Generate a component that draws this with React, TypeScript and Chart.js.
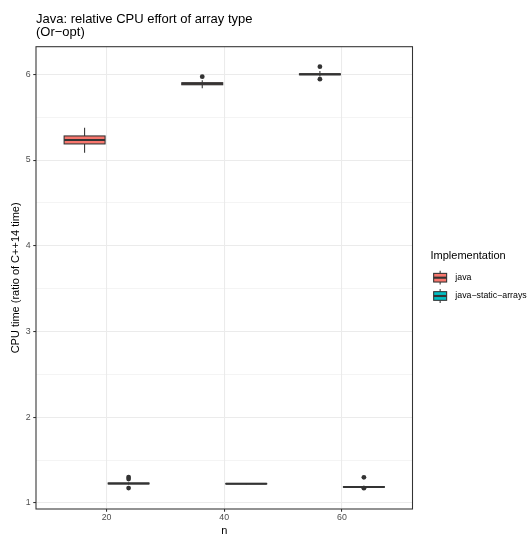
import { useEffect, useRef } from "react";
import { Chart, registerables } from "chart.js";

Chart.register(...registerables);

// ---------- data ----------
const TITLE_LINES = ["Java: relative CPU effort of array type", "(Or\u2212opt)"];
const X_TITLE = "n";
const Y_TITLE = "CPU time (ratio of C++14 time)";
const LEGEND_TITLE = "Implementation";
const SERIES = ["java", "java\u2212static\u2212arrays"];
const COLORS = ["#F8766D", "#00BFC4"];
const N_VALUES = [20, 40, 60];
const X_TICKS = [20, 40, 60];
const Y_TICKS = [1, 1.5, 2, 2.5, 3, 3.5, 4, 4.5, 5, 5.5, 6];
const X_RANGE = [8, 72];
const Y_RANGE = [0.93, 6.322];

// per n: [whiskerLow, q1, median, q3, whiskerHigh]
const JAVA_STATS = [
  [5.086, 5.188, 5.234, 5.281, 5.378],
  [5.837, 5.878, 5.89, 5.902, 5.93],
  [5.975, 5.994, 6.0, 6.006, 6.04],
];
const JAVA_OUTLIERS = [[], [5.972], [6.089, 5.943]];
const STATIC_STATS = [
  [1.215, 1.223, 1.228, 1.233, 1.24],
  [1.218, 1.222, 1.225, 1.228, 1.232],
  [1.18, 1.183, 1.187, 1.191, 1.2],
];
const STATIC_OUTLIERS = [[1.302, 1.28, 1.174], [], [1.3, 1.173]];

// ---------- styling ----------
const DODGE = 3.74;
const BOX_HALF = 3.48;
const FONT = "'Liberation Sans', Arial, Helvetica, sans-serif";
const LINE = "#333333";

const STATS = [JAVA_STATS, STATIC_STATS];
const OUTLIERS = [JAVA_OUTLIERS, STATIC_OUTLIERS];

function boxX(seriesIndex: number, nIndex: number) {
  return N_VALUES[nIndex] + (seriesIndex === 0 ? -DODGE : DODGE);
}

const boxPlugin = {
  id: "boxes",
  beforeDatasetsDraw(chart: any) {
    const { ctx, chartArea, scales } = chart;
    const x = scales.x;
    const y = scales.y;
    ctx.save();
    ctx.beginPath();
    ctx.rect(chartArea.left, chartArea.top, chartArea.right - chartArea.left, chartArea.bottom - chartArea.top);
    ctx.clip();
    STATS.forEach((stats, si) => {
      stats.forEach((s, i) => {
        const cx = boxX(si, i);
        const px = x.getPixelForValue(cx);
        const left = x.getPixelForValue(cx - BOX_HALF);
        const right = x.getPixelForValue(cx + BOX_HALF);
        const [lo, q1, med, q3, hi] = s.map((v) => y.getPixelForValue(v));
        ctx.strokeStyle = LINE;
        ctx.lineWidth = 1.07;
        ctx.beginPath();
        ctx.moveTo(px, lo);
        ctx.lineTo(px, q1);
        ctx.moveTo(px, q3);
        ctx.lineTo(px, hi);
        ctx.stroke();
        ctx.fillStyle = COLORS[si];
        ctx.fillRect(left, q3, right - left, q1 - q3);
        ctx.strokeRect(left, q3, right - left, q1 - q3);
        ctx.lineWidth = 2.13;
        ctx.beginPath();
        ctx.moveTo(left, med);
        ctx.lineTo(right, med);
        ctx.stroke();
      });
    });
    ctx.restore();
  },
};

const decorPlugin = {
  id: "decor",
  afterDraw(chart: any) {
    const { ctx, chartArea } = chart;
    const { left, right, top, bottom } = chartArea;
    ctx.save();
    // panel border
    ctx.strokeStyle = LINE;
    ctx.lineWidth = 1.07;
    ctx.strokeRect(left, top, right - left, bottom - top);

    // title
    ctx.fillStyle = "#000000";
    ctx.font = `13px ${FONT}`;
    ctx.textAlign = "left";
    ctx.textBaseline = "alphabetic";
    ctx.fillText(TITLE_LINES[0], left, 22.8);
    ctx.fillText(TITLE_LINES[1], left, 36.2);

    // axis titles
    ctx.font = `11px ${FONT}`;
    ctx.textAlign = "center";
    ctx.textBaseline = "middle";
    ctx.fillText(X_TITLE, (left + right) / 2, 530.5);
    ctx.save();
    ctx.translate(16, (top + bottom) / 2);
    ctx.rotate(-Math.PI / 2);
    ctx.fillText(Y_TITLE, 0, 0);
    ctx.restore();

    // legend
    const lx = right + 18;
    ctx.textAlign = "left";
    ctx.font = `11px ${FONT}`;
    ctx.fillText(LEGEND_TITLE, lx, 255.7);
    const keyCenters = [277.7, 296];
    SERIES.forEach((name, i) => {
      const cy = keyCenters[i];
      const kx = lx + 1;
      const ks = 17.3;
      const cx = kx + ks / 2;
      ctx.strokeStyle = LINE;
      ctx.lineWidth = 1.07;
      ctx.beginPath();
      ctx.moveTo(cx, cy - ks * 0.4);
      ctx.lineTo(cx, cy - ks * 0.25);
      ctx.moveTo(cx, cy + ks * 0.25);
      ctx.lineTo(cx, cy + ks * 0.4);
      ctx.stroke();
      ctx.fillStyle = COLORS[i];
      const bx = kx + ks * 0.125;
      const bw = ks * 0.75;
      ctx.fillRect(bx, cy - ks * 0.25, bw, ks * 0.5);
      ctx.strokeRect(bx, cy - ks * 0.25, bw, ks * 0.5);
      ctx.lineWidth = 2.13;
      ctx.beginPath();
      ctx.moveTo(bx, cy);
      ctx.lineTo(bx + bw, cy);
      ctx.stroke();
      ctx.fillStyle = "#000000";
      ctx.font = `8.8px ${FONT}`;
      ctx.textBaseline = "middle";
      ctx.fillText(name, kx + ks + 6.5, cy);
    });
    ctx.restore();
  },
};

export default function App() {
  const canvasRef = useRef<HTMLCanvasElement | null>(null);

  useEffect(() => {
    const canvas = canvasRef.current;
    if (!canvas) return;
    const datasets = OUTLIERS.map((series, si) => ({
      label: SERIES[si],
      data: series.flatMap((vals, i) => vals.map((v) => ({ x: boxX(si, i), y: v }))),
      pointRadius: 2.4,
      pointHoverRadius: 2.4,
      pointBackgroundColor: LINE,
      pointBorderWidth: 0,
      showLine: false,
    }));
    const isMajor = (v: number) => Math.abs(v - Math.round(v)) < 1e-9;
    const chart = new Chart(canvas, {
      type: "scatter",
      data: { datasets },
      plugins: [boxPlugin, decorPlugin],
      options: {
        animation: false,
        responsive: false,
        devicePixelRatio: window.devicePixelRatio || 1,
        layout: { padding: { top: 46.7, right: 119.5, bottom: 0, left: 0 } },
        plugins: {
          legend: { display: false },
          tooltip: { enabled: false },
          title: { display: false },
        },
        scales: {
          x: {
            type: "linear",
            min: X_RANGE[0],
            max: X_RANGE[1],
            afterBuildTicks: (scale: any) => {
              scale.ticks = X_TICKS.map((v) => ({ value: v }));
            },
            afterFit: (scale: any) => {
              scale.height = 27;
            },
            ticks: {
              padding: 0.5,
              color: "#4D4D4D",
              font: { family: FONT, size: 8.8 },
              maxRotation: 0,
              autoSkip: false,
              callback: (v: any) => String(v),
            },
            grid: {
              color: "#EBEBEB",
              lineWidth: 1.07,
              tickLength: 2.75,
              tickColor: LINE,
              tickWidth: 1.07,
            },
            border: { display: false },
          },
          y: {
            type: "linear",
            min: Y_RANGE[0],
            max: Y_RANGE[1],
            afterBuildTicks: (scale: any) => {
              scale.ticks = Y_TICKS.map((v) => ({ value: v }));
            },
            afterFit: (scale: any) => {
              scale.width = 36;
            },
            ticks: {
              padding: 2.5,
              color: "#4D4D4D",
              font: { family: FONT, size: 8.8 },
              autoSkip: false,
              callback: (v: any) => (isMajor(Number(v)) ? String(v) : ""),
            },
            grid: {
              color: "#EBEBEB",
              lineWidth: (c: any) => (c.tick && isMajor(c.tick.value) ? 1.07 : 0.53),
              tickLength: 2.75,
              tickColor: (c: any) => (c.tick && isMajor(c.tick.value) ? LINE : "rgba(0,0,0,0)"),
              tickWidth: 1.07,
            },
            border: { display: false },
          },
        },
      },
    } as any);
    return () => chart.destroy();
  }, []);

  return (
    <div style={{ position: "absolute", left: 0, top: 0, width: 532, height: 536, background: "#ffffff" }}>
      <canvas ref={canvasRef} width={532} height={536} style={{ width: 532, height: 536, display: "block" }} />
    </div>
  );
}
